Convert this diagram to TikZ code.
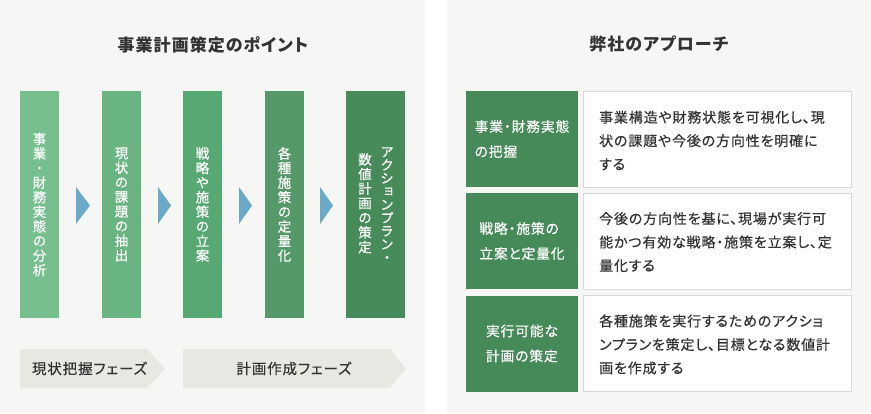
\documentclass[tikz,border=0pt]{standalone}
\usepackage{fontspec}
\setmainfont{Noto Sans CJK JP}[RawFeature=+palt, LetterSpace=6, FakeBold=0.5]
\newfontfamily\vfont{Noto Sans CJK JP}[RawFeature=+vert, FakeBold=0.6]
\newfontfamily\headfont{Noto Sans CJK JP}[RawFeature=+palt, LetterSpace=6]
\definecolor{panel}{HTML}{F6F6F4}
\definecolor{cA}{HTML}{77BF8E}
\definecolor{cB}{HTML}{6AB482}
\definecolor{cC}{HTML}{57A872}
\definecolor{cD}{HTML}{55986A}
\definecolor{cE}{HTML}{478B5A}
\definecolor{arrowc}{HTML}{6BA9C8}
\definecolor{phasec}{HTML}{E8E8E3}
\definecolor{labelc}{HTML}{478A5A}
\definecolor{borderc}{HTML}{D8D8D4}
\definecolor{txt}{HTML}{333333}
\tikzset{
  heading/.style={text=txt, inner sep=0pt, font=\headfont\fontsize{17}{20}\selectfont\bfseries},
  barbox/.style={fill=#1, draw=none, minimum width=39pt, minimum height=227pt, inner sep=0pt},
  vtext/.style={text=white, inner sep=0pt, align=center, font=\vfont\fontsize{13.5}{14.6}\selectfont},
  stepar/.style={fill=arrowc, draw=none},
  phasebox/.style={fill=phasec, draw=none},
  phasetxt/.style={text=txt, inner sep=0pt, font=\fontsize{14.5}{16}\selectfont},
  labbox/.style={fill=labelc, draw=none, minimum width=112pt, minimum height=96pt, inner sep=0pt},
  labtxt/.style={text=white, inner sep=0pt, align=left, font=\fontsize{13.8}{25}\selectfont},
  descbox/.style={fill=white, draw=borderc, line width=0.8pt, minimum width=268pt, minimum height=96pt, inner sep=0pt},
  desctxt/.style={text=txt, inner sep=0pt, align=left, anchor=west, font=\fontsize{14}{23.5}\selectfont}
}
\begin{document}
\begin{tikzpicture}[x=1pt,y=-1pt]
\useasboundingbox (0,0) rectangle (871,413);
\fill[white] (0,0) rectangle (871,413);
\fill[panel] (0,0) rectangle (425,413);
\fill[panel] (447,0) rectangle (871,413);

% left panel
\node[heading] (h1) at (213,45) {事業計画策定のポイント};

\node[barbox=cA] (b1) at (39.5,204.5) {};
\node[barbox=cB] (b2) at (121.5,204.5) {};
\node[barbox=cC] (b3) at (202.5,204.5) {};
\node[barbox=cD] (b4) at (284.5,204.5) {};
\node[barbox=cE, minimum width=59pt] (b5) at (375.5,204.5) {};

\node[vtext] (v1) at (b1.center) {事\\業\\・\\財\\務\\実\\態\\の\\分\\析};
\node[vtext] (v2) at (b2.center) {現\\状\\の\\課\\題\\の\\抽\\出};
\node[vtext] (v3) at (b3.center) {戦\\略\\や\\施\\策\\の\\立\\案};
\node[vtext] (v4) at (b4.center) {各\\種\\施\\策\\の\\定\\量\\化};
\node[vtext, anchor=north, font=\vfont\fontsize{13.5}{13.2}\selectfont] (v5a) at (387,147) {ア\\ク\\シ\\ョ\\ン\\プ\\ラ\\ン\\・};
\node[vtext, anchor=north] (v5b) at (365,153) {数\\値\\計\\画\\の\\策\\定};

\fill[stepar] (76,187) -- (90,205.5) -- (76,224) -- cycle;
\fill[stepar] (158,187) -- (171,205.5) -- (158,224) -- cycle;
\fill[stepar] (239,187) -- (252,205.5) -- (239,224) -- cycle;
\fill[stepar] (320,187) -- (333,205.5) -- (320,224) -- cycle;

\fill[phasebox] (20,349) -- (147,349) -- (165,368.5) -- (147,388) -- (20,388) -- cycle;
\fill[phasebox] (183,349) -- (390,349) -- (406,368.5) -- (390,388) -- (183,388) -- cycle;
\node[phasetxt] (p1) at (89.5,368.5) {現状把握フェーズ};
\node[phasetxt] (p2) at (294,368.5) {計画作成フェーズ};

% right panel
\node[heading] (h2) at (659,44) {弊社のアプローチ};

\node[labbox] (l1) at (522,139) {};
\node[labbox] (l2) at (522,241) {};
\node[labbox] (l3) at (522,343.5) {};
\node[labtxt] (lt1) at (l1.center) {事業・財務実態\\の把握};
\node[labtxt] (lt2) at (l2.center) {戦略・施策の\\立案と定量化};
\node[labtxt] (lt3) at (l3.center) {実行可能な\\計画の策定};

\node[descbox] (d1) at (717,139) {};
\node[descbox] (d2) at (717,241) {};
\node[descbox] (d3) at (717,343.5) {};
\node[desctxt] (dt1) at (599,140.5) {事業構造や財務状態を可視化し、現\\状の課題や今後の方向性を明確に\\する};
\node[desctxt] (dt2) at (599,242) {今後の方向性を基に、現場が実行可\\能かつ有効な戦略・施策を立案し、定\\量化する};
\node[desctxt] (dt3) at (599,344.5) {各種施策を実行するためのアクショ\\ンプランを策定し、目標となる数値計\\画を作成する};
\end{tikzpicture}
\end{document}
